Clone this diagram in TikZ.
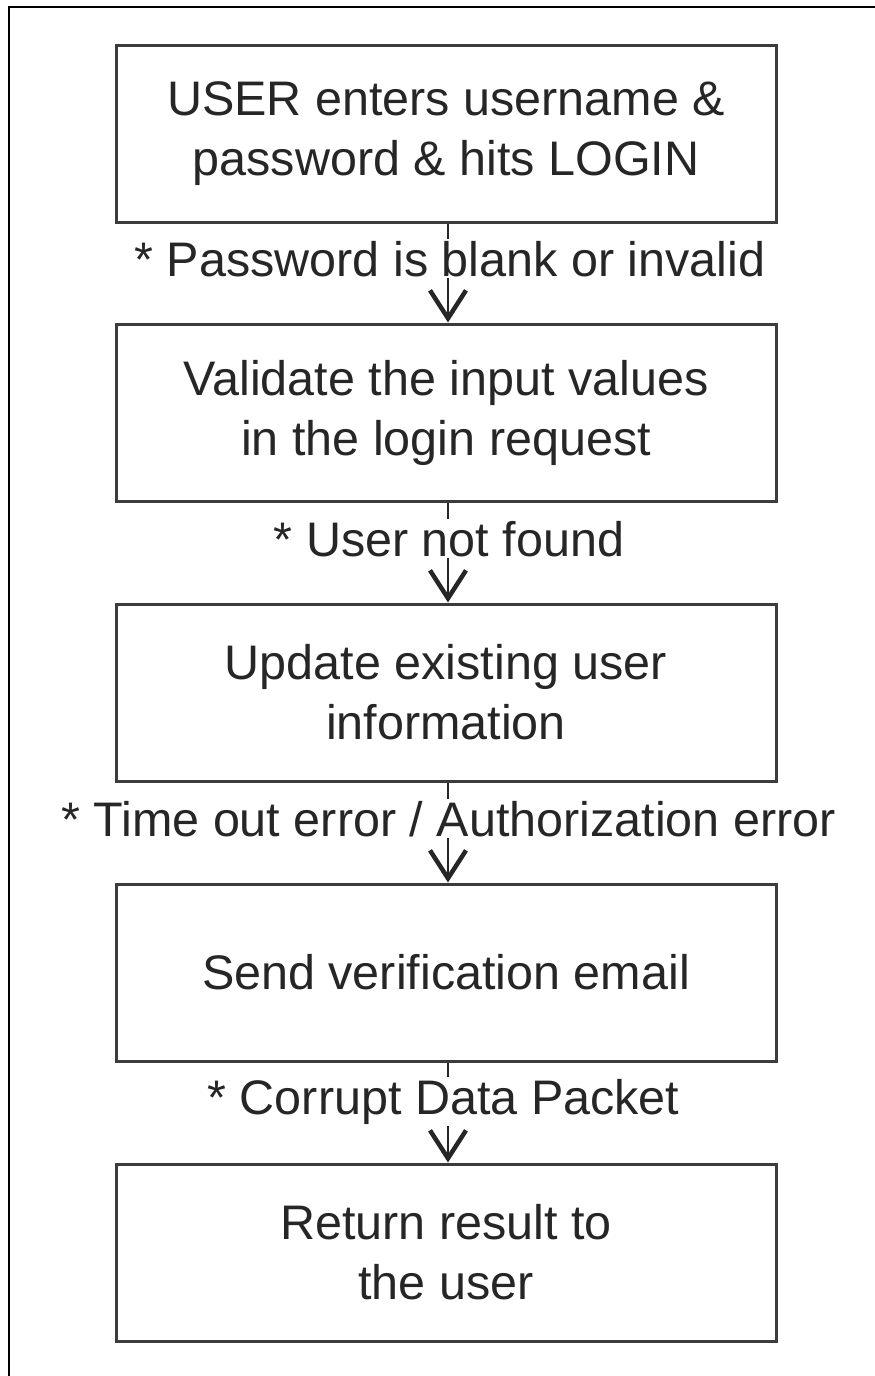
\documentclass[tikz,border=0pt]{standalone}
\usepackage{fontspec}
\setmainfont{Liberation Sans}
\usetikzlibrary{arrows.meta}
\definecolor{boxline}{HTML}{3C3C3C}
\definecolor{ink}{HTML}{262626}
\tikzset{
  stepbox/.style={draw=boxline, line width=3pt, minimum width=660pt, minimum height=177pt,
    inner sep=0pt, align=center, text=ink, font=\fontsize{48.5}{60}\selectfont},
  cond/.style={fill=white, inner sep=2pt, anchor=base, text=ink,
    font=\fontsize{48.5}{60}\selectfont},
  flow/.style={draw=ink, line width=2pt,
    -{Straight Barb[length=28pt, width=36pt, line width'=4.5pt]}}
}
\begin{document}
\begin{tikzpicture}[x=1pt, y=-1pt]
  \useasboundingbox (0,0) rectangle (875,1376);
  \fill[white] (0,0) rectangle (875,1376);
  % outer frame (left and top edges)
  \draw[black, line width=2.5pt] (9,1376) -- (9,7) -- (875,7);

  % process steps
  \node[stepbox] (s1) at (446,133.5) {USER enters username \&\\password \& hits LOGIN};
  \node[stepbox] (s2) at (446,412.5) {Validate the input values\\in the login request};
  \node[stepbox] (s3) at (446,692.5) {Update existing user\\information};
  \node[stepbox] (s4) at (446,972.5) {Send verification email};
  \node[stepbox] (s5) at (446,1252.5) {Return result to\\the user};

  % connectors
  \draw[flow] ([xshift=2pt]s1.south) -- ([xshift=2pt]s2.north);
  \draw[flow] ([xshift=2pt]s2.south) -- ([xshift=2pt]s3.north);
  \draw[flow] ([xshift=2pt]s3.south) -- ([xshift=2pt]s4.north);
  \draw[flow] ([xshift=2pt]s4.south) -- ([xshift=2pt]s5.north);

  % failure conditions on the connectors
  \node[cond] (c1) at (450,276) {* Password is blank or invalid};
  \node[cond] (c2) at (449,556) {* User not found};
  \node[cond] (c3) at (448.5,836) {* Time out error / Authorization error};
  \node[cond] (c4) at (443.5,1114) {* Corrupt Data Packet};
\end{tikzpicture}
\end{document}
